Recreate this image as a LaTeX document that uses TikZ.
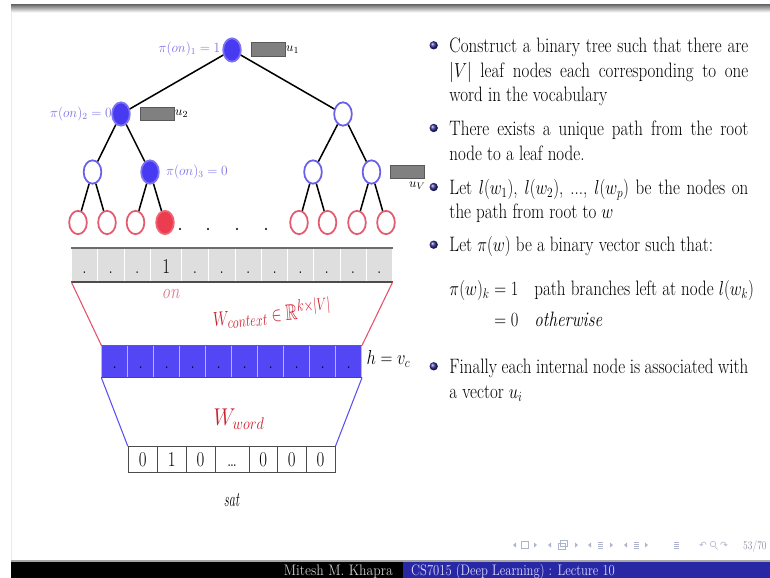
\documentclass[tikz,border=0pt]{standalone}
\usepackage{amsmath,amssymb}
\usepackage{fontspec}
\newfontfamily\symfont{DejaVu Sans}
\usetikzlibrary{shapes.geometric,shadings}

\definecolor{nodeblue}{RGB}{72,58,240}
\definecolor{rimblue}{RGB}{125,115,245}
\definecolor{ringblue}{RGB}{105,95,235}
\definecolor{labblue}{RGB}{125,115,230}
\definecolor{leafred}{RGB}{228,90,110}
\definecolor{leaffill}{RGB}{235,60,80}
\definecolor{barblue}{RGB}{82,70,245}
\definecolor{barsep}{RGB}{185,180,250}
\definecolor{bargray}{RGB}{222,222,222}
\definecolor{inkred}{RGB}{205,30,45}
\definecolor{onpink}{RGB}{225,115,135}
\definecolor{linered}{RGB}{228,80,105}
\definecolor{lineblue}{RGB}{90,80,240}
\definecolor{footblue}{RGB}{40,40,165}
\definecolor{navgray}{RGB}{175,180,205}
\definecolor{ballblue}{RGB}{45,45,150}

\newlength\linew
\setlength\linew{11.0cm}
\newcommand\bodyfont{\fontsize{17.8}{21.3}\selectfont}

\begin{document}
\begin{tikzpicture}[x=0.03cm, y=-0.03cm,
  treeedge/.style={line width=1.3pt, black},
  inode/.style={ellipse, draw=ringblue, fill=white, line width=1.5pt,
    minimum width=0.53cm, minimum height=0.7cm, inner sep=0pt},
  pnode/.style={inode, fill=nodeblue, draw=rimblue},
  leaf/.style={inode, draw=leafred},
  pleaf/.style={leaf, fill=leaffill, draw=leaffill!80!white},
  dotnode/.style={circle, fill=black, minimum size=0.07cm, inner sep=0pt},
  plabel/.style={text=labblue, font=\fontsize{12}{14}\selectfont, xscale=0.95, inner sep=0pt},
  uvec/.style={fill=gray, draw=gray!70!black, line width=0.4pt,
    minimum width=1.02cm, minimum height=0.4cm, inner sep=0pt},
  ulabel/.style={font=\fontsize{11}{13}\selectfont, inner sep=0pt, anchor=west},
  graycell/.style={fill=bargray, draw=white, line width=0.6pt, minimum height=1.0cm, inner sep=0pt},
  bluecell/.style={fill=barblue, draw=barsep, line width=0.6pt, minimum width=0.78cm,
    minimum height=0.948cm, inner sep=0pt},
  onehot/.style={fill=white, draw=gray!60!black, line width=0.8pt, minimum height=0.78cm, inner sep=0pt},
  cellfig/.style={inner sep=0pt, xscale=0.8, font=\fontsize{18}{20}\selectfont, anchor=base},
  body/.style={anchor=base west, inner sep=0pt, xscale=0.815, font=\bodyfont},
  bullet/.style={circle, shading=ball, ball color=ballblue, minimum size=0.25cm, inner sep=0pt},
  ink/.style={text=inkred, inner sep=0pt},
  foot/.style={inner sep=0pt, font=\fontsize{13}{15}\selectfont, anchor=base},
  nav/.style={navgray, line width=0.5pt}
]
\useasboundingbox (0,0) rectangle (770,578);
\fill[white] (0,0) rectangle (770,578);

% frame: top shadow and left edge
\shade[top color=black!58, bottom color=white] (11,4.5) rectangle (770,12.5);
\draw[black!8, line width=0.5pt] (11,12) -- (11,560);

% ---------------- tree ----------------
\node[pnode] (n1) at (232,50) {};
\node[pnode] (n2) at (121,114) {};
\node[inode] (n3) at (343,114) {};
\node[inode] (n4) at (92.5,172) {};
\node[pnode] (n5) at (150,172) {};
\node[inode] (n6) at (313,172) {};
\node[inode] (n7) at (371.5,172) {};
\node[leaf] (l1) at (78,222.5) {};
\node[leaf] (l2) at (107,222.5) {};
\node[leaf] (l3) at (135.5,222.5) {};
\node[pleaf] (l4) at (165,222.5) {};
\node[leaf] (l5) at (299,222.5) {};
\node[leaf] (l6) at (327.5,222.5) {};
\node[leaf] (l7) at (357,222.5) {};
\node[leaf] (l8) at (386,222.5) {};
\foreach \x [count=\i] in {180,208,237,266}
  \node[dotnode] (d\i) at (\x,229) {};

\foreach \a/\b in {n1/n2,n1/n3,n2/n4,n2/n5,n3/n6,n3/n7,n4/l1,n4/l2,n5/l3,n5/l4,n6/l5,n6/l6,n7/l7,n7/l8}
  \draw[treeedge] (\a) -- (\b);

\node[plabel, anchor=east] (p1) at (220.5,49) {$\pi(on)_1 = 1$};
\node[plabel, anchor=east] (p2) at (112,114) {$\pi(on)_2 = 0$};
\node[plabel, anchor=west] (p3) at (166,172) {$\pi(on)_3 = 0$};

\node[uvec] (r1) at (268,49.3) {};
\node[ulabel] (u1) at (286,50) {$u_1$};
\node[uvec] (r2) at (157,114) {};
\node[ulabel] (u2) at (175,114) {$u_2$};
\node[uvec] (r3) at (407,171.7) {};
\node[ulabel] (u3) at (409,185.5) {$u_V$};

% ---------------- one-hot of "on" ----------------
\foreach \l/\r/\t [count=\i] in {71.7/97.3/., 97.3/124/., 124/150.7/., 150.7/181.7/1,
    181.7/208.3/., 208.3/235/., 235/261.7/., 261.7/287.7/., 287.7/313.3/., 313.3/340/.,
    340/366/., 366/392.3/.} {
  \node[graycell, minimum width={(\r-\l)*0.03cm}] (g\i) at ({(\l+\r)/2},265) {};
  \node[cellfig] (gt\i) at ({(\l+\r)/2},273.3) {\t};
}
\draw[gray!85!black, line width=1.1pt] (g1.north west) -- (g12.north east);
\draw[gray!60!black, line width=1.3pt] (g1.south west) -- (g12.south east);
\node[body, anchor=base, text=onpink] (on) at (170.5,298) {\itshape on};

% ---------------- hidden layer ----------------
\foreach \i in {1,...,10} {
  \node[bluecell] (b\i) at ({101.7+13+26*(\i-1)},361.5) {};
  \node[cellfig] (bt\i) at ({101.7+13+26*(\i-1)},368.5) {.};
}
\draw[gray!80!black, line width=1.1pt] (b1.north west) -- (b10.north east);
\draw[gray!60!black, line width=1.3pt] (b1.south west) -- (b10.south east);
\node[body] (hv) at (366.5,364) {$h = v_c$};

\draw[linered, line width=0.9pt] (g1.south west) -- (b1.north west);
\draw[linered, line width=0.9pt] (g12.south east) -- (b10.north east);

\node[ink, rotate=5, xscale=0.74, font=\fontsize{19}{21}\selectfont] (wc) at (272,313)
  {$W_{context} \in \mathbb{R}^{k\times|V|}$};

% ---------------- one-hot of "sat" ----------------
\foreach \l/\r/\t [count=\i] in {128.3/157.3/0, 157.3/186/1, 186/215/0, 215/249/\ldots,
    249/277.3/0, 277.3/306/0, 306/335/0} {
  \node[onehot, minimum width={(\r-\l)*0.03cm}] (v\i) at ({(\l+\r)/2},459.7) {};
  \node[cellfig] (vt\i) at ({(\l+\r)/2},466) {\t};
}
\draw[lineblue, line width=0.9pt] (b1.south west) -- (v1.north west);
\draw[lineblue, line width=0.9pt] (b10.south east) -- (v7.north east);

\node[ink, xscale=0.85, font=\fontsize{20}{22}\selectfont] (ww) at (239,419) {$W_{word}$};
\node[body, anchor=base, xscale=0.74] (sat) at (231.5,506) {\itshape sat};

% ---------------- bullet text ----------------
\node[bullet] (bl1) at (433.7,45.3) {};
\node[body] (t1) at (449.3,52.3) {\hbox to\linew{Construct a binary tree such that there are}};
\node[body] (t2) at (449.3,77.3) {\hbox to\linew{$|V|$ leaf nodes each corresponding to one}};
\node[body] (t3) at (449.3,101.7) {word in the vocabulary};
\node[bullet] (bl2) at (433.7,128) {};
\node[body] (t4) at (449.3,135) {\hbox to\linew{There exists a unique path from the root}};
\node[body] (t5) at (449.3,160) {node to a leaf node.};
\node[bullet] (bl3) at (433.7,187) {};
\node[body] (t6) at (449.3,194) {\hbox to\linew{Let $l(w_1)$, $l(w_2)$, ..., $l(w_p)$ be the nodes on}};
\node[body] (t7) at (449.3,218.3) {the path from root to $w$};
\node[bullet] (bl4) at (433.7,244.7) {};
\node[body] (t8) at (449.3,251.7) {Let $\pi(w)$ be a binary vector such that:};
\node[body] (e1) at (449.3,295) {$\pi(w)_k$};
\node[body] (e2) at (494.3,295) {$=1$};
\node[body] (e3) at (534.3,295) {path branches left at node $l(w_k)$};
\node[body] (e4) at (494.3,326) {$=0$};
\node[body] (e5) at (534.3,326) {\itshape otherwise};
\node[bullet] (bl5) at (433.7,366.3) {};
\node[body] (t9) at (449.3,373.3) {\hbox to\linew{Finally each internal node is associated with}};
\node[body] (t10) at (449.3,398.3) {a vector $u_i$};

% ---------------- navigation symbols ----------------
\begin{scope}[nav]
  \foreach \a/\b in {513/537, 548/578, 588/613, 624/648} {
    \fill (\a,545) -- (\a+3,542.5) -- (\a+3,547.5) -- cycle;
    \fill (\b,545) -- (\b-3,542.5) -- (\b-3,547.5) -- cycle;
  }
  \draw (521.5,541.5) rectangle (528.5,548.5);
  \draw (558,543) rectangle (565,549);
  \draw (560.5,540.5) rectangle (567.5,546.5);
  \foreach \c in {600.5,636,676.5}
    \foreach \dy in {-3,-1,1,3}
      \draw (\c-2.5,545+\dy) -- (\c+2.5,545+\dy);
  \draw (713,544) circle (2.8);
  \draw (715,546.5) -- (717.5,549.5);
\end{scope}
\node[text=navgray, inner sep=0pt, font=\symfont\fontsize{8}{9}\selectfont] (undo) at (703,545) {↶};
\node[text=navgray, inner sep=0pt, font=\symfont\fontsize{8}{9}\selectfont] (redo) at (724,545) {↷};
\node[text=navgray!80!black, inner sep=0pt, anchor=base west, xscale=0.8,
  font=\fontsize{10}{12}\selectfont] (pg) at (743,549) {53/70};

% ---------------- footline ----------------
\fill[gray!70] (11,559.5) rectangle (770,561.5);
\fill[black] (11,561.5) rectangle (403,578);
\fill[footblue] (403,561.5) rectangle (770,578);
\node[foot, anchor=base east, text=white!80!black, xscale=0.9] (auth) at (393,575) {Mitesh M. Khapra};
\node[foot, anchor=base west, text=white!85!blue, xscale=0.83] (lect) at (411,575) {CS7015 (Deep Learning) : Lecture 10};
\end{tikzpicture}
\end{document}
